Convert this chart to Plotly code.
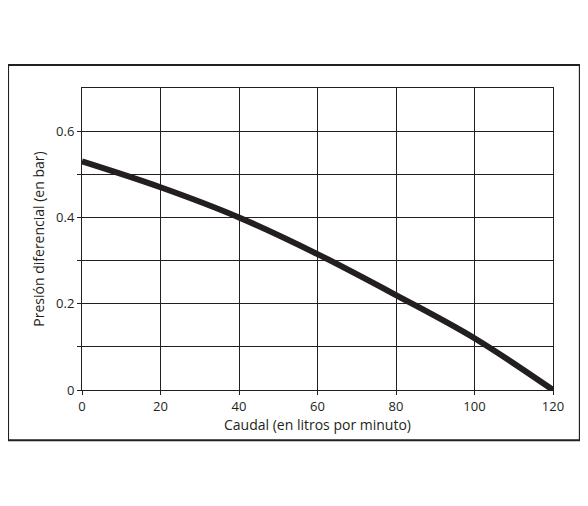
import plotly.graph_objects as go

caudal = [0, 20, 40, 60, 80, 100, 120]
presion = [0.53, 0.47, 0.40, 0.315, 0.22, 0.12, 0.0]

x_ticks = [0, 20, 40, 60, 80, 100, 120]
y_ticks = [0, 0.1, 0.2, 0.3, 0.4, 0.5, 0.6]
y_labels = ["0", "", "0.2", "", "0.4", "", "0.6"]

fig = go.Figure(go.Scatter(x=caudal, y=presion, mode="lines",
                           line=dict(color="#231f20", width=6, shape="spline", smoothing=1.0),
                           showlegend=False))

axis_common = dict(showline=True, linecolor="#231f20", linewidth=1, mirror=True,
                   showgrid=True, gridcolor="#231f20", gridwidth=1,
                   ticks="outside", ticklen=4, tickcolor="#231f20",
                   zeroline=False, tickfont=dict(size=13, color="#231f20"))

fig.update_xaxes(range=[0, 120], tickvals=x_ticks,
                 title=dict(text="Caudal (en litros por minuto)", standoff=6,
                            font=dict(size=14, color="#231f20")), **axis_common)
fig.update_yaxes(range=[0, 0.7], tickvals=y_ticks, ticktext=y_labels,
                 title=dict(text="Presión diferencial (en bar)", standoff=8,
                            font=dict(size=14, color="#231f20")), **axis_common)

# outer frame around the whole figure
fig.add_shape(type="rect", xref="paper", yref="paper",
              x0=-0.157, x1=1.057, y0=-0.166, y1=1.076,
              line=dict(color="#231f20", width=2))

fig.update_layout(width=588, height=506, plot_bgcolor="white", paper_bgcolor="white",
                  margin=dict(l=74, r=43, t=80, b=124),
                  font=dict(family="Open Sans", color="#231f20"))

fig.write_html("out.html")
